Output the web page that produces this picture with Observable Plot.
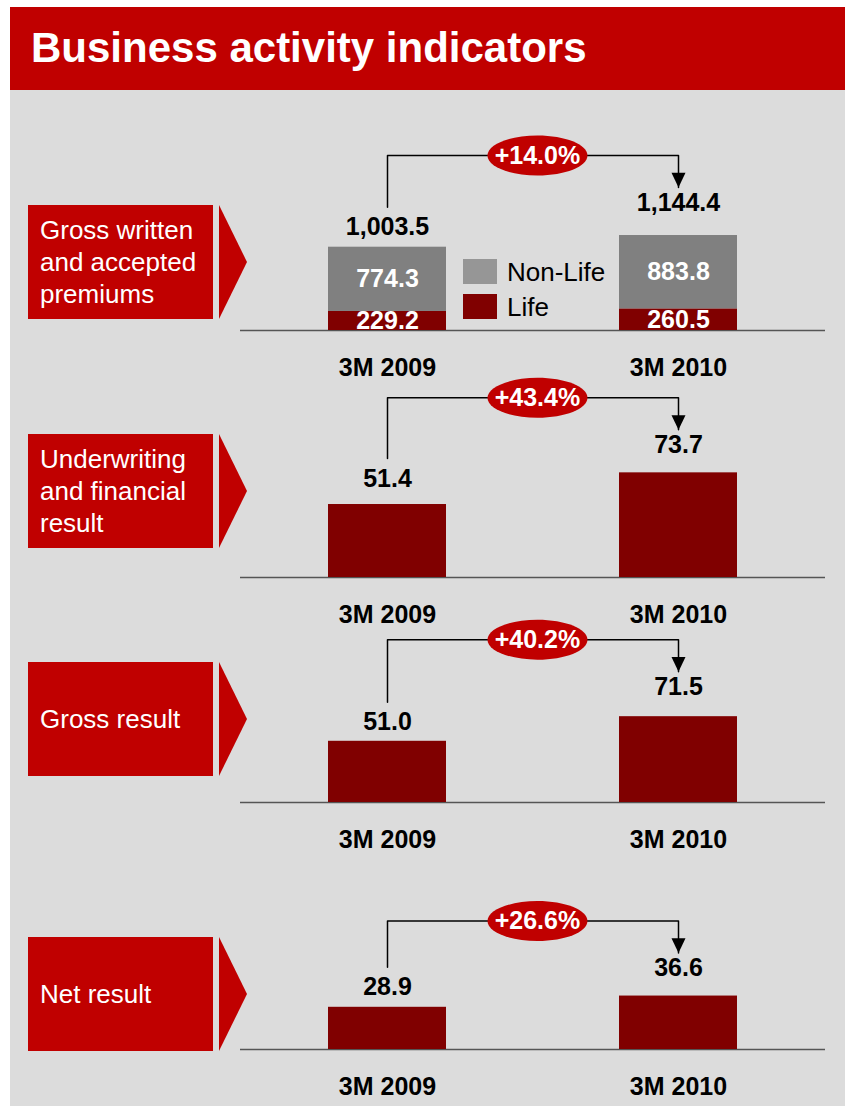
<!DOCTYPE html>
<html><head><meta charset="utf-8">
<script src="https://cdn.jsdelivr.net/npm/d3@7"></script>
<script src="https://cdn.jsdelivr.net/npm/@observablehq/plot@0.6"></script>
<style>
body{margin:0;background:#fff;font-family:"Liberation Sans",Arial,sans-serif;}
#page{position:relative;width:845px;height:1106px;overflow:hidden;}
.abs{position:absolute;}
#titlebar{left:10px;top:7px;width:835px;height:83px;background:#c00000;}
#title{left:31px;top:27px;color:#fff;font-weight:bold;font-size:42px;line-height:42px;white-space:nowrap;}
#panelbg{left:10px;top:90px;width:835px;height:1016px;background:#dcdcdc;}
.label{left:28px;width:173px;height:114px;background:#c00000;color:#fff;font-size:26px;line-height:32px;display:flex;align-items:center;padding-left:12px;}
.tri{left:219px;width:28px;height:114px;background:#c00000;clip-path:polygon(0 0,100% 50%,0 100%);}
.legtxt{left:507px;font-size:26px;line-height:26px;color:#000;white-space:nowrap;}
</style>
</head><body>
<div id="page">
  <div id="titlebar" class="abs"></div>
  <div id="title" class="abs">Business activity indicators</div>
  <div id="panelbg" class="abs"></div>
</div>
<script>
// ---- data ----
const periods = ["3M 2009", "3M 2010"];
const seriesNames = ["Life", "Non-Life"];
const lifePremiums = [229.2, 260.5];
const nonLifePremiums = [774.3, 883.8];
const premiumTotals = [1003.5, 1144.4];
const underwritingResult = [51.4, 73.7];
const grossResult = [51.0, 71.5];
const netResult = [28.9, 36.6];
const indicatorNames = ["Gross written\nand accepted\npremiums", "Underwriting\nand financial\nresult", "Gross result", "Net result"];

// ---- layout ----
const W = 845;
const panels = [
  {top: 110, yMax: 2289, labelTop: 205, gaps: [20, 33]},
  {top: 357, yMax: 133.8, labelTop: 434, gaps: [26, 28]},
  {top: 582, yMax: 158.3, labelTop: 662, gaps: [19, 30]},
  {top: 829, yMax: 130.1, labelTop: 937, gaps: [20, 28]}
];
const colors = {"Life": "#800000", "Non-Life": "#808080"};
const legendColors = {"Life": "#800000", "Non-Life": "#969696"};
const page = document.getElementById("page");
const fmt = d3.format(",.1f");
const pct = d3.format("+.1%");

const ellipseSymbol = {
  draw(ctx, size) {
    const r = Math.sqrt(size / Math.PI), rx = r * 2.5, ry = r, k = 0.5523;
    ctx.moveTo(rx, 0);
    ctx.bezierCurveTo(rx, ry * k, rx * k, ry, 0, ry);
    ctx.bezierCurveTo(-rx * k, ry, -rx, ry * k, -rx, 0);
    ctx.bezierCurveTo(-rx, -ry * k, -rx * k, -ry, 0, -ry);
    ctx.bezierCurveTo(rx * k, -ry, rx, -ry * k, rx, 0);
    ctx.closePath();
  }
};
const triDown = {
  draw(ctx, size) {
    const s = Math.sqrt(size / Math.PI);
    ctx.moveTo(-s, -2.1 * s);
    ctx.lineTo(s, -2.1 * s);
    ctx.lineTo(0, 0);
    ctx.closePath();
  }
};

// left labels
indicatorNames.forEach((name, i) => {
  const lab = document.createElement("div");
  lab.className = "abs label";
  lab.style.top = panels[i].labelTop + "px";
  lab.innerHTML = "<div>" + name.split("\n").join("<br>") + "</div>";
  page.appendChild(lab);
  const tri = document.createElement("div");
  tri.className = "abs tri";
  tri.style.top = panels[i].labelTop + "px";
  page.appendChild(tri);
});

// legend
[...seriesNames].reverse().forEach((s, j) => {
  const sw = document.createElement("div");
  sw.className = "abs";
  Object.assign(sw.style, {left: "463px", top: (259 + 35 * j) + "px", width: "34px", height: "25px", background: legendColors[s]});
  page.appendChild(sw);
  const t = document.createElement("div");
  t.className = "abs legtxt";
  t.style.top = (259 + 35 * j) + "px";
  t.textContent = s;
  page.appendChild(t);
});

function makePanel(i, totals, stackRows) {
  const cfg = panels[i];
  const H = 270, mt = 30, mb = 50, ml = 240, mr = 20;
  const u = cfg.yMax / (H - mt - mb);
  const xOpts = {type: "band", domain: periods, range: [ml, W - mr], paddingInner: 0.596, paddingOuter: 0.3};
  const xs = Plot.scale({x: xOpts});
  const half = (xs.apply(periods[1]) - xs.apply(periods[0])) / 2;
  const totalRows = periods.map((p, j) => ({period: p, value: totals[j], gap: cfg.gaps[j]}));
  const [g0, g1] = cfg.gaps;
  const v0 = totals[0], v1 = totals[1];
  const bracketY = v1 + (g1 + 47) * u;
  const bracket = [
    {period: periods[0], y: v0 + (g0 + 20) * u},
    {period: periods[0], y: bracketY},
    {period: periods[1], y: bracketY},
    {period: periods[1], y: v1 + (g1 + 15) * u}
  ];
  const growth = [{period: periods[0], y: bracketY, text: pct(v1 / v0 - 1)}];
  const marks = [Plot.ruleY([0], {stroke: "#555", strokeWidth: 1.5})];
  if (stackRows) {
    marks.push(Plot.barY(stackRows, {x: "period", y: "value", fill: "series"}));
    const segLabels = [];
    periods.forEach(p => {
      let base = 0;
      stackRows.filter(r => r.period === p).forEach(r => {
        segLabels.push({period: p, y: base + r.value / 2, text: fmt(r.value)});
        base += r.value;
      });
    });
    marks.push(Plot.text(segLabels, {x: "period", y: "y", text: "text", fill: "#fff", fontWeight: "bold"}));
  } else {
    marks.push(Plot.barY(totalRows, {x: "period", y: "value", fill: "#800000"}));
  }
  // value labels: y placed a fixed pixel gap above the bar top
  const valueLabels = totalRows.map(d => ({period: d.period, y: d.value + d.gap * u, text: fmt(d.value)}));
  marks.push(
    Plot.text(valueLabels, {x: "period", y: "y", text: "text", fontWeight: "bold", fill: "#000"}),
    Plot.line(bracket, {x: "period", y: "y", stroke: "#000", strokeWidth: 1.5}),
    Plot.dot([bracket[3]], {x: "period", y: "y", symbol: triDown, r: 7, fill: "#000", stroke: "none"}),
    Plot.dot(growth, {x: "period", y: "y", dx: half + 4, symbol: ellipseSymbol, r: 20, fill: "#c00000", stroke: "none"}),
    Plot.text(growth, {x: "period", y: "y", dx: half + 4, text: "text", fill: "#fff", fontWeight: "bold"})
  );
  const chart = Plot.plot({
    width: W, height: H,
    marginTop: mt, marginBottom: mb, marginLeft: ml, marginRight: mr,
    x: {...xOpts, axis: "bottom", tickSize: 0, tickPadding: 28, label: null},
    y: {domain: [0, cfg.yMax], axis: null},
    color: {domain: seriesNames, range: seriesNames.map(s => colors[s])},
    style: {background: "transparent", fontFamily: "'Liberation Sans', Arial, sans-serif", fontSize: "25px", fontWeight: "bold", color: "#000", overflow: "visible"},
    marks
  });
  chart.style.position = "absolute";
  chart.style.left = "0px";
  chart.style.top = cfg.top + "px";
  page.appendChild(chart);
}

const premiumRows = [];
seriesNames.forEach(s => periods.forEach((p, j) => {
  premiumRows.push({period: p, series: s, value: s === "Life" ? lifePremiums[j] : nonLifePremiums[j]});
}));

makePanel(0, premiumTotals, premiumRows);
makePanel(1, underwritingResult);
makePanel(2, grossResult);
makePanel(3, netResult);
</script>
</body></html>
